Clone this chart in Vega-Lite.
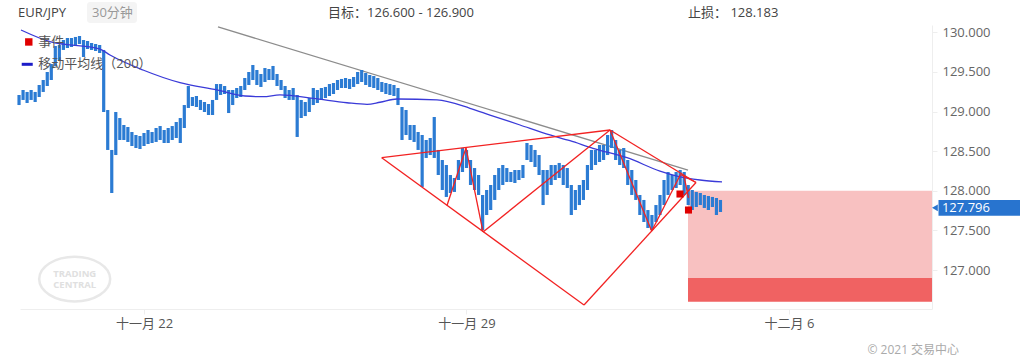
{
"$schema":"https://vega.github.io/schema/vega-lite/v6.json",
"width":912,"height":284,
"autosize":{"type":"none"},
"padding":{"left":20,"top":25,"right":88,"bottom":52},
"background":"white",
"config":{"view":{"stroke":null},"font":"Open Sans, Noto Sans CJK SC, sans-serif"},
"datasets":{
"bars":[
{"h":-46.5,"v":129.082,"v2":129.209},{"h":-45,"v":129.146,"v2":129.272},{"h":-43.5,"v":129.108,"v2":129.247},{"h":-42,"v":129.146,"v2":129.272},{"h":-40.5,"v":129.120,"v2":129.247},{"h":-39,"v":129.183,"v2":129.335},{"h":-37.5,"v":129.247,"v2":129.398},{"h":-36,"v":129.322,"v2":129.499},{"h":-34.5,"v":129.398,"v2":129.600},{"h":-33,"v":129.575,"v2":129.827},{"h":-31.5,"v":129.650,"v2":129.840},{"h":-30,"v":129.777,"v2":129.903},{"h":-28.5,"v":129.802,"v2":129.928},{"h":-27,"v":129.814,"v2":129.928},{"h":-25.5,"v":129.827,"v2":129.941},{"h":-24,"v":129.852,"v2":129.953},{"h":-22.5,"v":129.688,"v2":129.903},{"h":-21,"v":129.789,"v2":129.890},{"h":-19.5,"v":129.777,"v2":129.865},{"h":-18,"v":129.764,"v2":129.852},{"h":-16.5,"v":129.739,"v2":129.840},{"h":-15,"v":128.994,"v2":129.777},{"h":-13.5,"v":128.515,"v2":129.019},{"h":-12,"v":127.972,"v2":128.515},{"h":-10.5,"v":128.451,"v2":128.994},{"h":-9,"v":128.641,"v2":128.918},{"h":-7.5,"v":128.641,"v2":128.830},{"h":-6,"v":128.616,"v2":128.805},{"h":-4.5,"v":128.565,"v2":128.742},{"h":-3,"v":128.540,"v2":128.704},{"h":-1.5,"v":128.527,"v2":128.691},{"h":0,"v":128.565,"v2":128.729},{"h":1.5,"v":128.590,"v2":128.767},{"h":3,"v":128.603,"v2":128.742},{"h":4.5,"v":128.616,"v2":128.792},{"h":6,"v":128.641,"v2":128.817},{"h":7.5,"v":128.603,"v2":128.767},{"h":9,"v":128.603,"v2":128.792},{"h":10.5,"v":128.641,"v2":128.817},{"h":12,"v":128.666,"v2":128.868},{"h":13.5,"v":128.603,"v2":128.918},{"h":15,"v":128.792,"v2":129.082},{"h":16.5,"v":129.045,"v2":129.322},{"h":18,"v":129.070,"v2":129.183},{"h":19.5,"v":129.057,"v2":129.196},{"h":21,"v":129.019,"v2":129.146},{"h":22.5,"v":128.994,"v2":129.120},{"h":24,"v":128.956,"v2":129.095},{"h":25.5,"v":128.956,"v2":129.146},{"h":27,"v":129.146,"v2":129.347},{"h":28.5,"v":129.209,"v2":129.347},{"h":30,"v":129.221,"v2":129.322},{"h":31.5,"v":128.981,"v2":129.272},{"h":33,"v":129.082,"v2":129.272},{"h":34.5,"v":129.171,"v2":129.297},{"h":36,"v":129.183,"v2":129.322},{"h":37.5,"v":129.272,"v2":129.423},{"h":39,"v":129.335,"v2":129.499},{"h":40.5,"v":129.398,"v2":129.587},{"h":42,"v":129.335,"v2":129.524},{"h":43.5,"v":129.310,"v2":129.474},{"h":45,"v":129.373,"v2":129.549},{"h":46.5,"v":129.398,"v2":129.537},{"h":48,"v":129.398,"v2":129.575},{"h":49.5,"v":129.322,"v2":129.474},{"h":51,"v":129.272,"v2":129.398},{"h":52.5,"v":129.171,"v2":129.322},{"h":54,"v":129.146,"v2":129.272},{"h":55.5,"v":129.146,"v2":129.297},{"h":57,"v":128.679,"v2":129.209},{"h":58.5,"v":128.918,"v2":129.146},{"h":60,"v":128.943,"v2":129.120},{"h":61.5,"v":128.994,"v2":129.171},{"h":63,"v":129.082,"v2":129.297},{"h":64.5,"v":129.108,"v2":129.272},{"h":66,"v":129.146,"v2":129.297},{"h":67.5,"v":129.171,"v2":129.310},{"h":69,"v":129.196,"v2":129.347},{"h":70.5,"v":129.221,"v2":129.360},{"h":72,"v":129.272,"v2":129.398},{"h":73.5,"v":129.297,"v2":129.411},{"h":75,"v":129.297,"v2":129.423},{"h":76.5,"v":129.284,"v2":129.411},{"h":78,"v":129.310,"v2":129.436},{"h":79.5,"v":129.347,"v2":129.499},{"h":81,"v":129.373,"v2":129.524},{"h":82.5,"v":129.335,"v2":129.486},{"h":84,"v":129.310,"v2":129.461},{"h":85.5,"v":129.297,"v2":129.448},{"h":87,"v":129.272,"v2":129.423},{"h":88.5,"v":129.247,"v2":129.373},{"h":90,"v":129.221,"v2":129.360},{"h":91.5,"v":129.209,"v2":129.347},{"h":93,"v":129.196,"v2":129.335},{"h":94.5,"v":129.082,"v2":129.297},{"h":96,"v":128.641,"v2":129.057},{"h":97.5,"v":128.704,"v2":129.019},{"h":99,"v":128.641,"v2":128.830},{"h":100.5,"v":128.616,"v2":128.830},{"h":102,"v":128.515,"v2":128.742},{"h":103.5,"v":128.048,"v2":128.704},{"h":105,"v":128.414,"v2":128.641},{"h":106.5,"v":128.451,"v2":128.666},{"h":108,"v":128.414,"v2":128.931},{"h":109.5,"v":128.199,"v2":128.515},{"h":111,"v":128.010,"v2":128.388},{"h":112.5,"v":127.922,"v2":128.325},{"h":114,"v":127.972,"v2":128.199},{"h":115.5,"v":127.985,"v2":128.161},{"h":117,"v":128.136,"v2":128.388},{"h":118.5,"v":128.237,"v2":128.540},{"h":120,"v":128.287,"v2":128.515},{"h":121.5,"v":128.073,"v2":128.388},{"h":123,"v":128.010,"v2":128.287},{"h":124.5,"v":127.947,"v2":128.199},{"h":126,"v":127.505,"v2":127.947},{"h":127.5,"v":127.694,"v2":128.010},{"h":129,"v":127.757,"v2":128.073},{"h":130.5,"v":127.884,"v2":128.199},{"h":132,"v":128.010,"v2":128.287},{"h":133.5,"v":128.073,"v2":128.325},{"h":135,"v":128.111,"v2":128.287},{"h":136.5,"v":128.111,"v2":128.237},{"h":138,"v":128.098,"v2":128.262},{"h":139.5,"v":128.136,"v2":128.262},{"h":141,"v":128.161,"v2":128.325},{"h":142.5,"v":128.388,"v2":128.603},{"h":144,"v":128.363,"v2":128.578},{"h":145.5,"v":128.300,"v2":128.515},{"h":147,"v":128.199,"v2":128.451},{"h":148.5,"v":127.820,"v2":128.262},{"h":150,"v":127.947,"v2":128.262},{"h":151.5,"v":128.073,"v2":128.325},{"h":153,"v":128.136,"v2":128.325},{"h":154.5,"v":128.161,"v2":128.351},{"h":156,"v":128.073,"v2":128.325},{"h":157.5,"v":128.035,"v2":128.287},{"h":159,"v":127.694,"v2":128.073},{"h":160.5,"v":127.757,"v2":128.010},{"h":162,"v":127.820,"v2":128.073},{"h":163.5,"v":127.884,"v2":128.136},{"h":165,"v":128.010,"v2":128.325},{"h":166.5,"v":128.262,"v2":128.515},{"h":168,"v":128.325,"v2":128.515},{"h":169.5,"v":128.363,"v2":128.578},{"h":171,"v":128.388,"v2":128.578},{"h":172.5,"v":128.451,"v2":128.704},{"h":174,"v":128.540,"v2":128.767},{"h":175.5,"v":128.388,"v2":128.641},{"h":177,"v":128.325,"v2":128.515},{"h":178.5,"v":128.287,"v2":128.540},{"h":180,"v":128.073,"v2":128.388},{"h":181.5,"v":127.947,"v2":128.262},{"h":183,"v":127.884,"v2":128.136},{"h":184.5,"v":127.694,"v2":127.947},{"h":186,"v":127.606,"v2":127.884},{"h":187.5,"v":127.530,"v2":127.757},{"h":189,"v":127.505,"v2":127.694},{"h":190.5,"v":127.606,"v2":127.820},{"h":192,"v":127.694,"v2":127.947},{"h":193.5,"v":127.820,"v2":128.136},{"h":195,"v":127.947,"v2":128.237},{"h":196.5,"v":128.010,"v2":128.199},{"h":198,"v":128.035,"v2":128.237},{"h":199.5,"v":128.073,"v2":128.262},{"h":201,"v":127.947,"v2":128.237},{"h":202.5,"v":127.820,"v2":128.073},{"h":204,"v":127.757,"v2":128.010},{"h":205.5,"v":127.795,"v2":127.985},{"h":207,"v":127.820,"v2":127.972},{"h":208.5,"v":127.783,"v2":127.947},{"h":210,"v":127.757,"v2":127.934},{"h":211.5,"v":127.795,"v2":127.922},{"h":213,"v":127.694,"v2":127.909},{"h":214.5,"v":127.732,"v2":127.884}
],
"ma":[
{"h":-45.77,"v":130.029},{"h":-34.98,"v":129.881},{"h":-16.37,"v":129.789},{"h":-12.65,"v":129.713},{"h":-0.37,"v":129.524},{"h":13.4,"v":129.364},{"h":27.16,"v":129.272},{"h":37.58,"v":129.196},{"h":44.28,"v":129.187},{"h":50.6,"v":129.209},{"h":62.88,"v":129.167},{"h":75.53,"v":129.111},{"h":82.98,"v":129.091},{"h":87.81,"v":129.117},{"h":94.14,"v":129.158},{"h":109.02,"v":129.146},{"h":121.3,"v":129.041},{"h":128.74,"v":128.956},{"h":139.91,"v":128.83},{"h":151.07,"v":128.704},{"h":158.51,"v":128.632},{"h":167.07,"v":128.536},{"h":179.72,"v":128.417},{"h":192.0,"v":128.249},{"h":198.33,"v":128.186},{"h":206.88,"v":128.136},{"h":215.07,"v":128.111}
],
"trend":[{"h":27.53,"v":130.067},{"h":202.42,"v":128.262}],
"pattern":[
{"seg":1,"h":88.45,"v":128.417},{"seg":1,"h":173.4,"v":128.767},
{"seg":2,"h":88.45,"v":128.417},{"seg":2,"h":163.72,"v":126.558},
{"seg":3,"h":112.74,"v":127.814},{"seg":3,"h":119.81,"v":128.54},
{"seg":4,"h":119.81,"v":128.54},{"seg":4,"h":126.14,"v":127.48},
{"seg":5,"h":126.14,"v":127.48},{"seg":5,"h":173.4,"v":128.767},
{"seg":6,"h":173.4,"v":128.767},{"seg":6,"h":188.91,"v":127.492},
{"seg":7,"h":163.72,"v":126.558},{"seg":7,"h":205.4,"v":128.104},
{"seg":8,"h":173.4,"v":128.767},{"seg":8,"h":205.4,"v":128.104},
{"seg":9,"h":188.91,"v":127.492},{"seg":9,"h":199.63,"v":128.205},
{"seg":10,"h":199.63,"v":128.205},{"seg":10,"h":205.4,"v":128.104},
{"seg":11,"h":200.93,"v":128.186},{"seg":11,"h":202.6,"v":127.909}
],
"events":[{"h":199.44,"v":127.959},{"h":202.6,"v":127.757}],
"zones":[{"zone":"range","h":202.42,"h2":293.21,"v":128.0,"v2":126.9},{"zone":"target","h":202.42,"h2":293.21,"v":126.9,"v2":126.6}]
},
"encoding":{
 "x":{"field":"h","type":"quantitative","scale":{"domain":[-46.14,293.21],"nice":false,"zero":false},
  "axis":{"values":[0,120,240],"labelExpr":"datum.value==0?'十一月 22':(datum.value==120?'十一月 29':'十二月 6')","title":null,"grid":false,"domainColor":"#eeeeee","tickColor":"#eeeeee","tickSize":5,"labelColor":"#555555","labelFontSize":13,"labelPadding":3,"labelOverlap":false,"labelFlush":false}},
 "y":{"field":"v","type":"quantitative","scale":{"domain":[126.508,130.092],"nice":false,"zero":false},
  "axis":{"orient":"right","values":[127,127.5,128,128.5,129,129.5,130],"format":".3f","title":null,"grid":false,"domainColor":"#eeeeee","tickColor":"#eeeeee","tickSize":5,"labelColor":"#666666","labelFontSize":13,"labelPadding":5,"labelOverlap":false,"labelFlush":false}}
},
"layer":[
{"data":{"name":"zones"},"mark":{"type":"rect"},
 "encoding":{"x2":{"field":"h2"},"y2":{"field":"v2"},
  "color":{"field":"zone","type":"nominal","scale":{"domain":["range","target"],"range":["#f8c1c1","#f06262"]},"legend":null}}},
{"data":{"values":[{"h":-25.79,"v":126.886}]},"mark":{"type":"point","shape":"M-1,0A1,0.63,0,1,1,1,0A1,0.63,0,1,1,-1,0Z","filled":false,"stroke":"#e8e8e8","strokeWidth":2.5,"size":5041,"opacity":1}},
{"data":{"values":[{"h":-25.79,"v":126.949,"t":"TRADING"},{"h":-25.79,"v":126.81,"t":"CENTRAL"}]},"mark":{"type":"text","align":"center","baseline":"middle","fontSize":9.5,"fontWeight":"bold","color":"#e0e0e0"},
 "encoding":{"text":{"field":"t"}}},
{"data":{"name":"trend"},"mark":{"type":"line","color":"#8c8c8c","strokeWidth":1.3}},
{"data":{"name":"bars"},"mark":{"type":"rule","color":"#2b7bd3","strokeWidth":3.2},
 "encoding":{"y2":{"field":"v2"}}},
{"data":{"name":"ma"},"mark":{"type":"line","color":"#3a3ad8","strokeWidth":1.3,"interpolate":"monotone"}},
{"data":{"name":"pattern"},"mark":{"type":"line","color":"#f22222","strokeWidth":1.3},
 "encoding":{"detail":{"field":"seg","type":"nominal"}}},
{"data":{"name":"events"},"mark":{"type":"point","shape":"square","filled":true,"color":"#e00000","size":50,"opacity":1}},
{"data":{"values":[{"h":295.63,"h2":330,"v":127.885,"v2":127.685}]},"mark":{"type":"rect","color":"#2874cf"},
 "encoding":{"x2":{"field":"h2"},"y2":{"field":"v2"}}},
{"data":{"values":[{"h":294.3,"v":127.785}]},"mark":{"type":"point","shape":"triangle-left","filled":true,"color":"#2874cf","size":45,"opacity":1}},
{"data":{"values":[{"h":296.9,"v":127.783,"t":"127.796"}]},"mark":{"type":"text","align":"left","baseline":"middle","fontSize":13,"color":"white","fontWeight":500},
 "encoding":{"text":{"field":"t"}}},
{"data":{"values":[{"h":-21.21,"h2":-2.6,"v":130.382,"v2":130.117}]},"mark":{"type":"rect","color":"#f4f4f4","cornerRadius":3},
 "encoding":{"x2":{"field":"h2"},"y2":{"field":"v2"}}},
{"data":{"values":[{"h":-19.35,"v":130.244,"t":"30分钟"}]},"mark":{"type":"text","align":"left","baseline":"middle","fontSize":13,"color":"#999999"},
 "encoding":{"text":{"field":"t"}}},
{"data":{"values":[{"h":-46.88,"v":130.244,"t":"EUR/JPY"},{"h":68.47,"v":130.244,"t":"目标：126.600 - 126.900"},{"h":202.42,"v":130.244,"t":"止损： 128.183"}]},"mark":{"type":"text","align":"left","baseline":"middle","fontSize":13,"color":"#444444"},
 "encoding":{"text":{"field":"t"}}},
{"data":{"values":[{"h":-42.87,"v":129.878}]},"mark":{"type":"point","shape":"square","filled":true,"color":"#e00000","size":55,"opacity":1}},
{"data":{"values":[{"h":-45.5,"h2":-41.4,"v":129.596}]},"mark":{"type":"rule","color":"#1c1cc8","strokeWidth":3},
 "encoding":{"x2":{"field":"h2"}}},
{"data":{"values":[{"h":-39.33,"v":129.878,"t":"事件"},{"h":-39.33,"v":129.596,"t":"移动平均线（200）"}]},"mark":{"type":"text","align":"left","baseline":"middle","fontSize":13,"color":"#555555"},
 "encoding":{"text":{"field":"t"}}},
{"data":{"values":[{"h":303.3,"v":125.99,"t":"© 2021 交易中心"}]},"mark":{"type":"text","align":"right","baseline":"middle","fontSize":12,"color":"#aaaaaa"},
 "encoding":{"text":{"field":"t"}}}
]
}
